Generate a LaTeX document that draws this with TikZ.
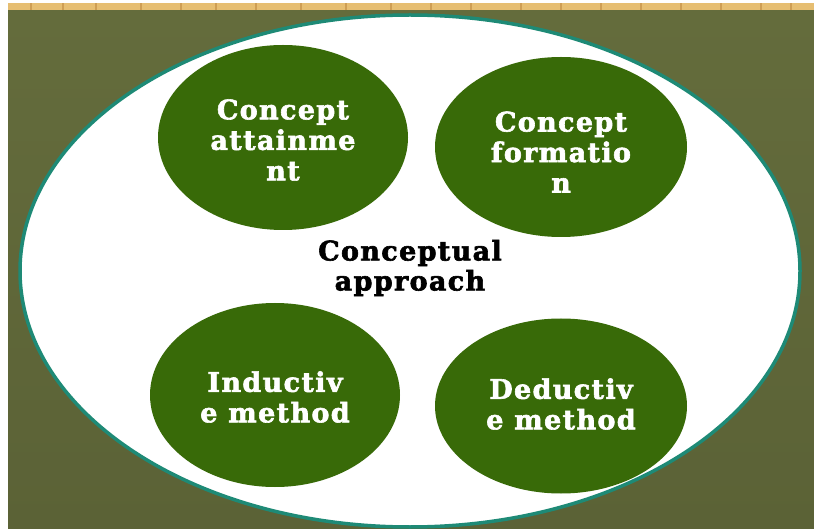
\documentclass[tikz,border=0pt]{standalone}
\usepackage{fontspec}
\setmainfont{DejaVu Serif}[BoldFeatures={FakeBold=2.2,LetterSpace=5}]
\usetikzlibrary{shapes.geometric}
\definecolor{bgolive}{HTML}{5B6236}
\definecolor{bgtop}{HTML}{646C3C}
\definecolor{woodc}{HTML}{E6BE72}
\definecolor{woodd}{HTML}{C8964C}
\definecolor{rimteal}{HTML}{1E8A76}
\definecolor{blobgreen}{HTML}{386A08}
\tikzset{
  blob/.style={ellipse, fill=blobgreen, draw=none, inner sep=0pt},
  blobtext/.style={align=center, text=white, inner sep=0pt, font=\bfseries\fontsize{27}{30.5}\selectfont},
  centre/.style={align=center, text=black, inner sep=0pt, font=\bfseries\fontsize{27}{30}\selectfont}
}
\begin{document}
\begin{tikzpicture}[x=1pt,y=-1pt]
\useasboundingbox (0,0) rectangle (814,529);
\fill[white] (0,0) rectangle (814,529);
\fill[woodc] (8,3) rectangle (814,11);
\foreach \x in {30,62,95,140,180,215,255,300,345,390,430,470,520,560,600,640,680,720,760,790}
  \fill[woodd!80!woodc] (\x,3) rectangle ++(2,8);
\shade[top color=bgtop, bottom color=bgolive] (8,11) rectangle (814,529);
\node[ellipse, draw=rimteal, line width=3.5pt, fill=white, minimum width=780pt, minimum height=512pt] (main) at (410,271) {};
\node[blob, minimum width=250pt, minimum height=185pt] (ca) at (283,137.5) {};
\node[blob, minimum width=252pt, minimum height=180pt] (cf) at (561,147) {};
\node[blob, minimum width=250pt, minimum height=184pt] (im) at (275,395) {};
\node[blob, minimum width=252pt, minimum height=175pt] (dm) at (561,406) {};
\node[blobtext] (cat) at (283,140) {Concept\\attainme\\nt};
\node[blobtext] (cft) at (561,152) {Concept\\formatio\\n};
\node[blobtext] (imt) at (275,397) {Inductiv\\e method};
\node[blobtext] (dmt) at (561,404) {Deductiv\\e method};
\node[centre] (ctr) at (410,268) {Conceptual\\approach};
\end{tikzpicture}
\end{document}
